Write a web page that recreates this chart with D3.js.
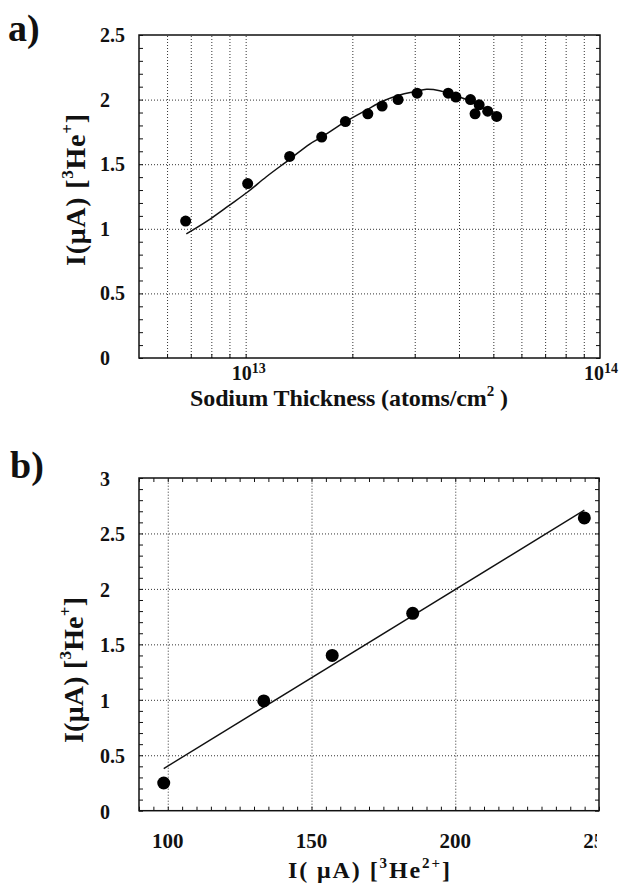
<!DOCTYPE html>
<html><head><meta charset="utf-8">
<script src="https://cdn.jsdelivr.net/npm/d3@7"></script>
<style>
body{margin:0;background:#fff}
svg{display:block}
text{font-family:"Liberation Serif","Times New Roman",serif;font-weight:bold;fill:#111}
</style>
</head><body><svg id="c" width="621" height="884"></svg>
<script>
// ---- Panel a data ----
const aThickness = [6.77e12,1.013e13,1.331e13,1.639e13,1.912e13,2.212e13,2.427e13,2.692e13,3.047e13,3.729e13,3.92e13,4.31e13,4.44e13,4.56e13,4.82e13,5.11e13];
const aCurrent = [1.06,1.35,1.56,1.71,1.83,1.89,1.95,2.00,2.05,2.05,2.02,2.00,1.89,1.96,1.91,1.87];
const aFitThickness = [6.8e12,7.74e12,9.01e12,1.015e13,1.144e13,1.331e13,1.516e13,1.647e13,1.912e13,2.193e13,2.443e13,2.723e13,3.0e13,3.24e13,3.53e13,3.85e13,4.29e13,4.58e13,5.11e13];
const aFitCurrent = [0.96,1.055,1.184,1.287,1.403,1.538,1.656,1.713,1.829,1.92,1.989,2.036,2.061,2.08,2.069,2.036,1.989,1.945,1.873];
const aYTicks = [0,0.5,1,1.5,2,2.5];
const aYTickLabels = ["0","0.5","1","1.5","2","2.5"];
const aXLabelTicks = [1e13,1e14];
const aXTickExponents = ["13","14"];
// ---- Panel b data ----
const bInput = [98.6,133.4,157.2,185.2,244.9];
const bOutput = [0.25,0.99,1.40,1.78,2.64];
const bFitInput = [98.6,244.9];
const bFitOutput = [0.38,2.71];
const bYTicks = [0,0.5,1,1.5,2,2.5,3];
const bYTickLabels = ["0","0.5","1","1.5","2","2.5","3"];
const bXTicks = [100,150,200,250];
const bXTickLabels = ["100","150","200","250"];

const svg = d3.select("#c");

function rich(sel, parts, fs){
  let pending = 0;
  parts.forEach(p=>{
    if(p.sup){
      const s = Math.round(fs*0.62);
      const up = fs*0.42;
      sel.append("tspan").attr("font-size",s).attr("dy",pending - up).text(p.t);
      pending = up;
    } else {
      sel.append("tspan").attr("font-size",fs).attr("dy",pending).text(p.t);
      pending = 0;
    }
  });
}
function gridStyle(g){
  g.select(".domain").remove();
  g.selectAll("line").attr("stroke","#333").attr("stroke-width",1).attr("stroke-dasharray","1,2");
  g.selectAll("text").remove();
}
function tickStyle(g){
  g.select(".domain").remove();
  g.selectAll("line").attr("stroke","#111").attr("stroke-width",1);
  g.selectAll("text").remove();
}

// ================= Panel a =================
const ax = d3.scaleLog().domain([5e12,1e14]).range([139,600]);
const ay = d3.scaleLinear().domain([0,2.5]).range([358,35]);
const aLogTicks = [6e12,7e12,8e12,9e12,1e13,2e13,3e13,4e13,5e13,6e13,7e13,8e13,9e13];
const aMinorY = d3.range(0,26).map(i=>i/10);

svg.append("g").attr("transform","translate(0,358)")
  .call(d3.axisBottom(ax).tickValues(aLogTicks).tickSize(-323).tickFormat("")).call(gridStyle);
svg.append("g").attr("transform","translate(139,0)")
  .call(d3.axisLeft(ay).tickValues([0.5,1,1.5,2]).tickSize(-461).tickFormat("")).call(gridStyle);
svg.append("g").attr("transform","translate(139,0)")
  .call(d3.axisLeft(ay).tickValues(aMinorY).tickSize(-4).tickFormat("")).call(tickStyle);
svg.append("g").attr("transform","translate(600,0)")
  .call(d3.axisRight(ay).tickValues(aMinorY).tickSize(-4).tickFormat("")).call(tickStyle);
svg.append("g").attr("transform","translate(0,358)")
  .call(d3.axisBottom(ax).tickValues(aLogTicks).tickSize(-4).tickFormat("")).call(tickStyle);
svg.append("rect").attr("x",139).attr("y",35).attr("width",461).attr("height",323)
  .attr("fill","none").attr("stroke","#111").attr("stroke-width",1.5);

svg.append("path").datum(aFitThickness.map((d,i)=>[d,aFitCurrent[i]]))
  .attr("fill","none").attr("stroke","#111").attr("stroke-width",1.5)
  .attr("d", d3.line().x(d=>ax(d[0])).y(d=>ay(d[1])).curve(d3.curveCatmullRom));
svg.append("g").selectAll("circle").data(aThickness.map((d,i)=>[d,aCurrent[i]])).join("circle")
  .attr("cx",d=>ax(d[0])).attr("cy",d=>ay(d[1])).attr("r",5.5).attr("fill","#000");

svg.append("g").selectAll("text").data(aYTicks).join("text")
  .attr("x",100).attr("y",d=>ay(d)+7).attr("font-size",20).text((d,i)=>aYTickLabels[i]);
aXLabelTicks.forEach((v,i)=>{
  const t = svg.append("text").attr("x",ax(v)+ (i===0?3:1)).attr("y",380).attr("text-anchor","middle");
  t.append("tspan").attr("font-size",20).text("10");
  t.append("tspan").attr("font-size",14).attr("dy",-7).text(aXTickExponents[i]);
});
{
  const t = svg.append("text").attr("x",190).attr("y",406).attr("textLength",318).attr("lengthAdjust","spacing");
  rich(t,[{t:"Sodium Thickness (atoms/cm"},{t:"2",sup:true},{t:" )"}],24);
}
{
  const t = svg.append("text").attr("transform","translate(85,190) rotate(-90)").attr("text-anchor","middle")
    .attr("textLength",152).attr("lengthAdjust","spacing");
  rich(t,[{t:"I(μA) ["},{t:"3",sup:true},{t:"He"},{t:"+",sup:true},{t:"]"}],28);
}
svg.append("text").attr("x",8).attr("y",41).attr("font-size",38).text("a)");

// ================= Panel b =================
const bx = d3.scaleLinear().domain([90,250]).range([139,599]);
const by = d3.scaleLinear().domain([0,3]).range([810.7,478]);
const bMinorX = d3.range(90,251,5);
const bMinorY = d3.range(0,31).map(i=>i/10);

svg.append("g").attr("transform","translate(0,810.7)")
  .call(d3.axisBottom(bx).tickValues([100,150,200]).tickSize(-332.7).tickFormat("")).call(gridStyle);
svg.append("g").attr("transform","translate(139,0)")
  .call(d3.axisLeft(by).tickValues([0.5,1,1.5,2,2.5]).tickSize(-460).tickFormat("")).call(gridStyle);
svg.append("g").attr("transform","translate(0,810.7)")
  .call(d3.axisBottom(bx).tickValues(bMinorX).tickSize(-4).tickFormat("")).call(tickStyle);
svg.append("g").attr("transform","translate(0,478)")
  .call(d3.axisTop(bx).tickValues(bMinorX).tickSize(-4).tickFormat("")).call(tickStyle);
svg.append("g").attr("transform","translate(139,0)")
  .call(d3.axisLeft(by).tickValues(bMinorY).tickSize(-4).tickFormat("")).call(tickStyle);
svg.append("g").attr("transform","translate(599,0)")
  .call(d3.axisRight(by).tickValues(bMinorY).tickSize(-4).tickFormat("")).call(tickStyle);
svg.append("rect").attr("x",139).attr("y",478).attr("width",460).attr("height",332.7)
  .attr("fill","none").attr("stroke","#111").attr("stroke-width",1.5);

svg.append("path").datum(bFitInput.map((d,i)=>[d,bFitOutput[i]]))
  .attr("fill","none").attr("stroke","#111").attr("stroke-width",1.4)
  .attr("d", d3.line().x(d=>bx(d[0])).y(d=>by(d[1])));
svg.append("g").selectAll("circle").data(bInput.map((d,i)=>[d,bOutput[i]])).join("circle")
  .attr("cx",d=>bx(d[0])).attr("cy",d=>by(d[1])).attr("r",6.5).attr("fill","#000");

svg.append("g").selectAll("text").data(bYTicks).join("text")
  .attr("x",100).attr("y",d=>by(d)+8).attr("font-size",20).text((d,i)=>bYTickLabels[i]);
svg.append("clipPath").attr("id","bclip").append("rect").attr("x",0).attr("y",820).attr("width",597).attr("height",40);
svg.append("g").attr("clip-path","url(#bclip)").selectAll("text").data(bXTicks).join("text")
  .attr("x",d=>bx(d)).attr("y",848).attr("text-anchor","middle").attr("font-size",21).text((d,i)=>bXTickLabels[i]);
{
  const t = svg.append("text").attr("x",288).attr("y",878).attr("textLength",162).attr("lengthAdjust","spacing");
  rich(t,[{t:"I( μA) ["},{t:"3",sup:true},{t:"He"},{t:"2+",sup:true},{t:"]"}],24);
}
{
  const t = svg.append("text").attr("transform","translate(83,670) rotate(-90)").attr("text-anchor","middle")
    .attr("textLength",146).attr("lengthAdjust","spacing");
  rich(t,[{t:"I(μA) ["},{t:"3",sup:true},{t:"He"},{t:"+",sup:true},{t:"]"}],28);
}
svg.append("text").attr("x",10).attr("y",478).attr("font-size",38).text("b)");
</script>
</body></html>
